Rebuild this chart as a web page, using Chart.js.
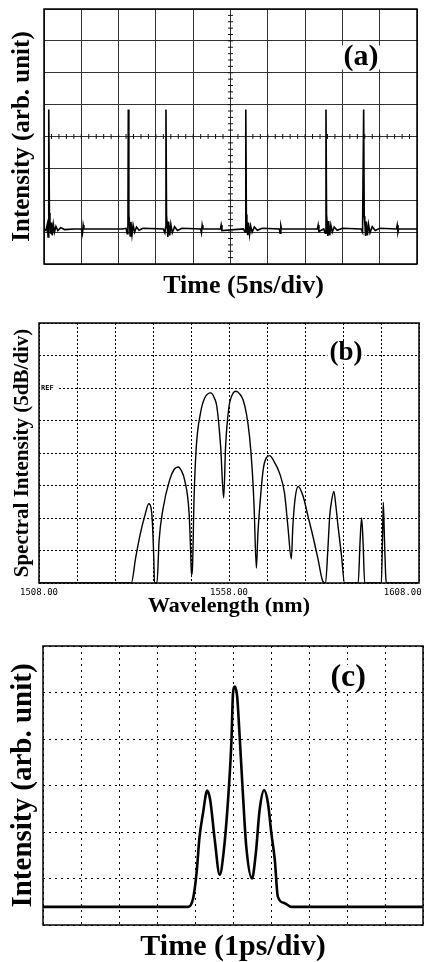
<!DOCTYPE html>
<html>
<head>
<meta charset="utf-8">
<title>Pulse train, spectrum and autocorrelation</title>
<script src="https://cdn.jsdelivr.net/npm/chart.js@4.4.1/dist/chart.umd.min.js"></script>
<style>
  body { margin: 0; background: #fff; }
  canvas { position: absolute; left: 0; }
  #chartA { top: 0; }
  #chartB { top: 305px; }
  #chartC { top: 640px; }
</style>
</head>
<body>
<canvas id="chartA" width="424" height="310"></canvas>
<canvas id="chartB" width="424" height="320"></canvas>
<canvas id="chartC" width="424" height="322"></canvas>
<script>
'use strict';

// (a) oscilloscope trace, x and y in screen divisions
const timeA = [
  0, 0.05, 0.09, 0.11, 0.125, 0.13, 0.145, 0.16, 0.18, 0.2, 0.22, 0.25, 0.28, 0.32, 0.37, 0.45, 0.55, 0.8,
  1.0, 1.03, 1.05, 1.07,
  2.1, 2.2, 2.23, 2.25, 2.26, 2.275, 2.29, 2.31, 2.33, 2.36, 2.39, 2.43, 2.48, 2.55, 2.65,
  3.2, 3.24, 3.26, 3.27, 3.285, 3.3, 3.32, 3.34, 3.37, 3.4, 3.44, 3.5, 3.58, 3.7,
  4.2, 4.22, 4.24, 4.26, 4.73, 4.75, 4.77,
  5.35, 5.39, 5.41, 5.425, 5.44, 5.46, 5.48, 5.51, 5.54, 5.58, 5.64, 5.72, 5.85,
  6.31, 6.33, 6.35, 6.37, 7.33, 7.35, 7.37,
  7.5, 7.54, 7.56, 7.575, 7.59, 7.61, 7.63, 7.66, 7.69, 7.73, 7.78, 7.86, 8.0,
  8.5, 8.54, 8.57, 8.585, 8.6, 8.62, 8.64, 8.67, 8.7, 8.74, 8.8, 8.88, 9.0,
  9.45, 9.47, 9.49, 9.51, 10
];
const intensityA = [
  1.1, 1.05, 1.25, 0.85, 1.1, 4.85, 1.6, 1.35, 0.95, 1.3, 0.9, 1.25, 1.0, 1.18, 1.05, 1.14, 1.08, 1.1,
  1.1, 0.95, 1.22, 1.1,
  1.1, 1.12, 0.95, 1.1, 4.85, 1.55, 1.3, 0.88, 1.32, 0.92, 1.22, 1.0, 1.16, 1.06, 1.12,
  1.1, 0.98, 1.15, 4.85, 1.5, 1.3, 0.85, 1.33, 0.9, 1.25, 0.98, 1.17, 1.05, 1.12,
  1.1, 0.98, 1.22, 1.1, 1.1, 1.22, 1.05,
  1.1, 1.0, 4.85, 1.55, 1.35, 0.9, 1.3, 0.92, 1.2, 1.0, 1.16, 1.06, 1.12,
  1.1, 0.97, 1.2, 1.1, 1.1, 1.22, 1.02,
  1.1, 0.97, 4.85, 1.55, 1.3, 0.88, 1.35, 0.9, 1.22, 1.0, 1.16, 1.06, 1.12,
  1.1, 1.0, 4.85, 1.5, 1.32, 0.88, 1.33, 0.9, 1.25, 0.98, 1.17, 1.05, 1.12,
  1.1, 1.22, 1.0, 1.1, 1.1
];

// (b) optical spectrum, wavelength in nm, level in divisions (5 dB/div)
const wavelengthB = [
  1508, 1532.3, 1533.4, 1534.5, 1535.8, 1536.9, 1537.5, 1537.8, 1538.2, 1538.4,
  1539.05, 1539.6, 1540.6, 1542.4, 1543.6, 1544.6, 1545.5, 1546.3, 1547.5, 1547.9, 1548.1,
  1548.4, 1548.8, 1549.4, 1550.5, 1551.6, 1553.2, 1554.2, 1554.8, 1555.8, 1556.6,
  1557.1, 1558.0, 1558.8, 1559.8, 1560.8, 1561.7, 1562.6, 1563.4, 1564.1, 1564.6, 1565.2,
  1565.6, 1566.1, 1567.0, 1567.8, 1568.7, 1569.8, 1571.3, 1572.6, 1573.5, 1574.4,
  1574.8, 1575.4, 1576.2, 1577.5, 1578.8, 1580.1, 1581.4, 1582.7,
  1583.4, 1584.0, 1584.5, 1585.1, 1585.6, 1586.1, 1586.7, 1587.6, 1588.4,
  1592.0, 1592.5, 1592.9, 1593.3, 1593.7,
  1598.1, 1598.4, 1598.6, 1598.9, 1599.2, 1599.4, 1608
];
const levelB = [
  0, 0, 0.75, 1.43, 2.05, 2.44, 2.3, 1.95, 0.8, 0,
  0, 1.3, 2.26, 3.18, 3.5, 3.57, 3.45, 3.18, 2.15, 1.0, 0.26,
  0.51, 2.6, 4.2, 5.23, 5.69, 5.85, 5.68, 5.43, 4.2, 2.62,
  4.2, 5.43, 5.78, 5.9, 5.82, 5.64, 5.2, 4.51, 3.5, 2.36, 0.46,
  1.5, 2.36, 3.49, 3.85, 3.92, 3.75, 3.38, 2.77, 1.74, 0.74,
  1.74, 2.6, 2.97, 2.67, 2.05, 1.43, 0.75, 0.05,
  0, 1.0, 2.05, 2.6, 2.82, 2.4, 1.74, 0.85, 0,
  0, 1.3, 2.0, 1.2, 0,
  0, 1.4, 2.48, 1.4, 0.3, 0, 0
];
const tickValuesB = [1508, 1558, 1608];
const tickLabelsB = ['1508.00', '1558.00', '1608.00      '];

// (c) autocorrelation trace, x and y in divisions (1 ps/div)
const delayC = [
  0, 3.82, 3.95, 4.04, 4.12, 4.21, 4.32, 4.40, 4.52, 4.65, 4.75, 4.87, 4.96, 5.00, 5.05,
  5.11, 5.16, 5.25, 5.35, 5.50, 5.60, 5.70, 5.82, 5.92, 6.01, 6.10, 6.18, 6.36, 6.54, 10
];
const traceC = [
  0.39, 0.39, 0.57, 1.11, 1.90, 2.40, 2.89, 2.69, 1.83, 1.08, 1.54, 2.69, 3.98, 4.98, 5.13,
  4.91, 4.27, 2.97, 1.68, 1.00, 1.54, 2.47, 2.90, 2.62, 1.97, 1.40, 0.61, 0.47, 0.39, 0.39
];

const serif = '"Liberation Serif", "Times New Roman", serif';

function toPoints(xs, ys) {
  return xs.map((x, i) => ({ x: x, y: ys[i] }));
}

// keep the plot box where the picture has it
function fixWidth(w) {
  return function (scale) {
    scale.width = w;
    scale.paddingTop = 0;
    scale.paddingBottom = 0;
  };
}
function fixHeight(h) {
  return function (scale) {
    scale.height = h;
    scale.paddingLeft = 0;
    scale.paddingRight = 0;
  };
}

const framePlugin = {
  id: 'frame',
  afterDraw(chart, args, opts) {
    const { ctx, chartArea: a } = chart;
    ctx.save();
    ctx.strokeStyle = '#000';
    ctx.lineWidth = opts.width || 1.5;
    ctx.strokeRect(a.left, a.top, a.right - a.left, a.bottom - a.top);
    ctx.restore();
  }
};

const panelLabelPlugin = {
  id: 'panelLabel',
  afterDraw(chart, args, opts) {
    const ctx = chart.ctx;
    const x = chart.scales.x.getPixelForValue(opts.at[0]);
    const y = chart.scales.y.getPixelForValue(opts.at[1]);
    ctx.save();
    ctx.font = 'bold ' + opts.size + 'px ' + serif;
    ctx.textAlign = 'center';
    ctx.textBaseline = 'middle';
    const w = ctx.measureText(opts.text).width;
    ctx.fillStyle = '#fff';
    ctx.fillRect(x - w / 2 - 2, y - opts.size * 0.4, w + 4, opts.size * 0.8);
    ctx.fillStyle = '#000';
    ctx.fillText(opts.text, x, y);
    ctx.restore();
  }
};

// small marks on the centre cross of the scope screen
const scopeTicksPlugin = {
  id: 'scopeTicks',
  beforeDatasetsDraw(chart) {
    const { ctx, scales: { x, y } } = chart;
    const cx = x.getPixelForValue(5);
    const cy = y.getPixelForValue(4);
    ctx.save();
    ctx.strokeStyle = '#111';
    ctx.lineWidth = 1;
    ctx.beginPath();
    for (let i = 1; i < 50; i++) {
      const px = x.getPixelForValue(i / 5);
      ctx.moveTo(px, cy - 2.5);
      ctx.lineTo(px, cy + 2.5);
    }
    for (let i = 1; i < 40; i++) {
      const py = y.getPixelForValue(i / 5);
      ctx.moveTo(cx - 2.5, py);
      ctx.lineTo(cx + 2.5, py);
    }
    ctx.stroke();
    ctx.restore();
  }
};

const refPlugin = {
  id: 'refMark',
  afterDraw(chart) {
    const { ctx, chartArea: a } = chart;
    const py = chart.scales.y.getPixelForValue(6);
    ctx.save();
    ctx.fillStyle = '#fff';
    ctx.fillRect(a.left + 1, py - 4, 18, 8);
    ctx.fillStyle = '#000';
    ctx.font = 'bold 7px "DejaVu Sans Mono", monospace';
    ctx.textBaseline = 'middle';
    ctx.fillText('REF', a.left + 2, py);
    ctx.restore();
  }
};

// chart (a)
new Chart(document.getElementById('chartA'), {
  type: 'line',
  data: {
    datasets: [{
      data: toPoints(timeA, intensityA),
      borderColor: '#000',
      borderWidth: 1.6,
      pointRadius: 0,
      tension: 0
    }]
  },
  options: {
    responsive: false,
    animation: false,
    layout: { padding: { top: 9, right: 7, bottom: 0, left: 0 } },
    plugins: {
      legend: { display: false },
      tooltip: { enabled: false },
      frame: { width: 1.5 },
      panelLabel: { text: '(a)', at: [8.5, 6.48], size: 30 }
    },
    scales: {
      x: {
        type: 'linear', min: 0, max: 10,
        ticks: { display: false, stepSize: 1 },
        grid: { color: '#333', lineWidth: 1, drawTicks: false },
        border: { display: false },
        title: {
          display: true, text: '    Time (5ns/div)', color: '#000',
          font: { family: serif, size: 26, weight: 'bold', lineHeight: 1.2 },
          padding: { top: 0, bottom: 8 }
        },
        afterFit: fixHeight(46)
      },
      y: {
        min: 0, max: 8,
        ticks: { display: false, stepSize: 1 },
        grid: { color: '#333', lineWidth: 1, drawTicks: false },
        border: { display: false },
        title: {
          display: true, text: 'Intensity (arb. unit)', color: '#000',
          font: { family: serif, size: 25, weight: 'bold', lineHeight: 1.2 },
          padding: { top: 8, bottom: 0 }
        },
        afterFit: fixWidth(44)
      }
    }
  },
  plugins: [scopeTicksPlugin, framePlugin, panelLabelPlugin]
});

// chart (b)
new Chart(document.getElementById('chartB'), {
  type: 'line',
  data: {
    datasets: [{
      data: toPoints(wavelengthB, levelB),
      borderColor: '#000',
      borderWidth: 1.4,
      pointRadius: 0,
      cubicInterpolationMode: 'monotone'
    }]
  },
  options: {
    responsive: false,
    animation: false,
    layout: { padding: { top: 18, right: 5, bottom: 0, left: 0 } },
    plugins: {
      legend: { display: false },
      tooltip: { enabled: false },
      frame: { width: 1.5 },
      panelLabel: { text: '(b)', at: [1588.8, 7.08], size: 27 }
    },
    scales: {
      x: {
        type: 'linear', min: 1508, max: 1608,
        ticks: {
          stepSize: 10, autoSkip: false, maxRotation: 0, padding: 4, color: '#000',
          font: { family: '"DejaVu Sans Mono", monospace', size: 9 },
          callback: function (value) {
            const i = tickValuesB.indexOf(value);
            return i >= 0 ? tickLabelsB[i] : '';
          }
        },
        grid: { color: '#000', lineWidth: 1, drawTicks: false },
        border: { display: false, dash: [2, 2] },
        title: {
          display: true, text: 'Wavelength (nm)', color: '#000',
          font: { family: serif, size: 22, weight: 'bold', lineHeight: 1.2 },
          padding: { top: 0, bottom: 5 }
        },
        afterFit: fixHeight(42)
      },
      y: {
        min: 0, max: 8,
        ticks: { display: false, stepSize: 1 },
        grid: { color: '#000', lineWidth: 1, drawTicks: false },
        border: { display: false, dash: [2, 2] },
        title: {
          display: true, text: 'Spectral Intensity (5dB/div)', color: '#000',
          font: { family: serif, size: 21, weight: 'bold', lineHeight: 1.2 },
          padding: { top: 10, bottom: 0 }
        },
        afterFit: fixWidth(39)
      }
    }
  },
  plugins: [framePlugin, refPlugin, panelLabelPlugin]
});

// chart (c)
new Chart(document.getElementById('chartC'), {
  type: 'line',
  data: {
    datasets: [{
      data: toPoints(delayC, traceC),
      borderColor: '#000',
      borderWidth: 2.6,
      pointRadius: 0,
      cubicInterpolationMode: 'monotone'
    }]
  },
  options: {
    responsive: false,
    animation: false,
    layout: { padding: { top: 6, right: 1, bottom: 0, left: 0 } },
    plugins: {
      legend: { display: false },
      tooltip: { enabled: false },
      frame: { width: 1.5 },
      panelLabel: { text: '(c)', at: [8.03, 5.32], size: 32 }
    },
    scales: {
      x: {
        type: 'linear', min: 0, max: 10,
        ticks: { display: false, stepSize: 1 },
        grid: { color: '#000', lineWidth: 1, drawTicks: false },
        border: { display: false, dash: [2, 4] },
        title: {
          display: true, text: 'Time (1ps/div)', color: '#000',
          font: { family: serif, size: 30, weight: 'bold', lineHeight: 1 },
          padding: { top: 0, bottom: 0 }
        },
        afterFit: fixHeight(37)
      },
      y: {
        min: 0, max: 6,
        ticks: { display: false, stepSize: 1 },
        grid: { color: '#000', lineWidth: 1, drawTicks: false },
        border: { display: false, dash: [2, 4] },
        title: {
          display: true, text: 'Intensity (arb. unit)', color: '#000',
          font: { family: serif, size: 29, weight: 'bold', lineHeight: 1.2 },
          padding: { top: 6, bottom: 0 }
        },
        afterFit: fixWidth(43)
      }
    }
  },
  plugins: [framePlugin, panelLabelPlugin]
});
</script>
</body>
</html>
